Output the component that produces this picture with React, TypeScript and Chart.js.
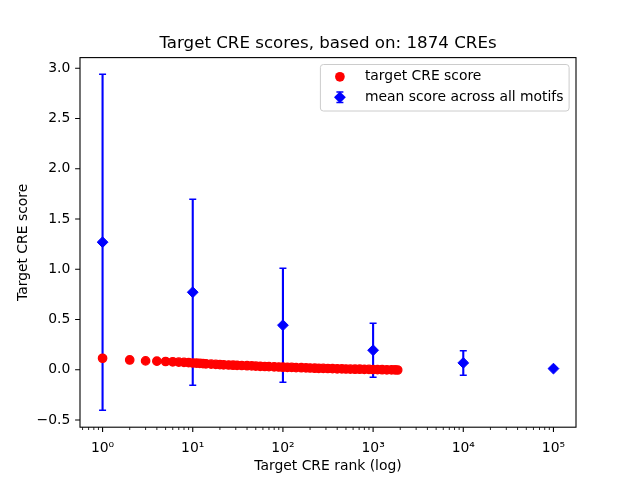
import React, { useEffect, useRef } from 'react';
import { Chart, registerables } from 'chart.js';

Chart.register(...registerables);

const TITLE = 'Target CRE scores, based on: 1874 CREs';
const X_LABEL = 'Target CRE rank (log)';
const Y_LABEL = 'Target CRE score';
const LEGEND_LABELS = ['target CRE score', 'mean score across all motifs'];

const targetRanks = [
  1, 2, 3, 4, 5, 6, 7, 8, 9, 10, 11, 12, 13, 14, 16, 18, 20, 22, 25, 28, 31, 35, 40, 45, 50,
  56, 63, 70, 80, 90, 100, 112, 125, 140, 160, 180, 200, 225, 250, 280, 315, 355, 400, 450,
  500, 560, 630, 710, 800, 900, 1000, 1120, 1260, 1420, 1600, 1750, 1874,
];
const targetScores = [
  0.114, 0.097, 0.088, 0.085, 0.082, 0.079, 0.076, 0.073, 0.07, 0.067, 0.065, 0.063, 0.061,
  0.059, 0.056, 0.053, 0.051, 0.049, 0.047, 0.045, 0.044, 0.042, 0.04, 0.038, 0.036,
  0.034, 0.032, 0.031, 0.029, 0.027, 0.025, 0.024, 0.023, 0.021, 0.02, 0.018, 0.017, 0.015,
  0.014, 0.013, 0.012, 0.011, 0.009, 0.008, 0.007, 0.006, 0.005, 0.005, 0.004, 0.003,
  0.002, 0.001, 0.0, -0.001, -0.001, -0.002, -0.003,
];

const meanRanks = [1, 10, 100, 1000, 10000, 100000];
const meanScores = [1.269, 0.771, 0.443, 0.194, 0.068, 0.011];
const meanErrors = [1.672, 0.925, 0.567, 0.269, 0.122, 0];

const xMajorTicks = [1, 10, 100, 1000, 10000, 100000];
const xTickLabels = ['10\u2070', '10\u00b9', '10\u00b2', '10\u00b3', '10\u2074', '10\u2075'];
const yTicks = [-0.5, 0, 0.5, 1, 1.5, 2, 2.5, 3];
const yTickLabels = ['\u22120.5', '0.0', '0.5', '1.0', '1.5', '2.0', '2.5', '3.0'];

const X_MIN = 0.562;
const X_MAX = 177828;
const Y_MIN = -0.572;
const Y_MAX = 3.106;

const RED = '#ff0000';
const BLUE = '#0000ff';
const FONT = '"DejaVu Sans", sans-serif';
const FS = 13.9;

function minorTicks(): number[] {
  const out: number[] = [];
  for (let p = -1; p <= 5; p++) {
    for (let m = 2; m <= 9; m++) {
      const v = m * Math.pow(10, p);
      if (v > X_MIN && v < X_MAX) out.push(v);
    }
  }
  return out;
}

function drawDiamond(ctx: CanvasRenderingContext2D, x: number, y: number, r: number) {
  ctx.beginPath();
  ctx.moveTo(x - r, y);
  ctx.lineTo(x, y - r);
  ctx.lineTo(x + r, y);
  ctx.lineTo(x, y + r);
  ctx.closePath();
  ctx.fill();
}

const decorPlugin = {
  id: 'decor',
  beforeDatasetsDraw(chart: any) {
    const { ctx, scales } = chart;
    const x = scales.x;
    const y = scales.y;
    ctx.save();
    ctx.strokeStyle = BLUE;
    meanRanks.forEach((r, i) => {
      const e = meanErrors[i];
      if (!e) return;
      const px = x.getPixelForValue(r);
      const top = y.getPixelForValue(meanScores[i] + e);
      const bot = y.getPixelForValue(meanScores[i] - e);
      ctx.lineWidth = 2.1;
      ctx.beginPath();
      ctx.moveTo(px, top);
      ctx.lineTo(px, bot);
      ctx.stroke();
      ctx.lineWidth = 1.5;
      ctx.beginPath();
      ctx.moveTo(px - 3.5, top);
      ctx.lineTo(px + 3.5, top);
      ctx.moveTo(px - 3.5, bot);
      ctx.lineTo(px + 3.5, bot);
      ctx.stroke();
    });
    ctx.restore();
  },
  afterDraw(chart: any) {
    const { ctx, chartArea, scales } = chart;
    const x = scales.x;
    const y = scales.y;
    const { left, right, top, bottom } = chartArea;
    ctx.save();
    // frame
    ctx.strokeStyle = '#000';
    ctx.lineWidth = 1.1;
    ctx.strokeRect(left, top, right - left, bottom - top);
    // y ticks
    ctx.beginPath();
    yTicks.forEach((v) => {
      const py = y.getPixelForValue(v);
      ctx.moveTo(left, py);
      ctx.lineTo(left - 4.9, py);
    });
    xMajorTicks.forEach((v) => {
      const px = x.getPixelForValue(v);
      ctx.moveTo(px, bottom);
      ctx.lineTo(px, bottom + 4.9);
    });
    ctx.stroke();
    ctx.lineWidth = 0.85;
    ctx.beginPath();
    minorTicks().forEach((v) => {
      const px = x.getPixelForValue(v);
      ctx.moveTo(px, bottom);
      ctx.lineTo(px, bottom + 2.8);
    });
    ctx.stroke();

    // legend
    ctx.font = `${FS}px ${FONT}`;
    const tw = Math.max(...LEGEND_LABELS.map((t) => ctx.measureText(t).width));
    const pad = 5.6;
    const handle = 27.8;
    const textPad = 11.1;
    const w = pad * 2 + handle + textPad + tw;
    const h = 46.5;
    const lx = right - 6.9 - w;
    const ly = top + 6.9;
    const rr = 3;
    ctx.beginPath();
    ctx.moveTo(lx + rr, ly);
    ctx.lineTo(lx + w - rr, ly);
    ctx.arcTo(lx + w, ly, lx + w, ly + rr, rr);
    ctx.lineTo(lx + w, ly + h - rr);
    ctx.arcTo(lx + w, ly + h, lx + w - rr, ly + h, rr);
    ctx.lineTo(lx + rr, ly + h);
    ctx.arcTo(lx, ly + h, lx, ly + h - rr, rr);
    ctx.lineTo(lx, ly + rr);
    ctx.arcTo(lx, ly, lx + rr, ly, rr);
    ctx.closePath();
    ctx.fillStyle = 'rgba(255,255,255,0.8)';
    ctx.fill();
    ctx.strokeStyle = '#cccccc';
    ctx.lineWidth = 1;
    ctx.stroke();

    const mx = lx + pad + handle / 2;
    const row1 = ly + 12.3;
    const row2 = ly + 32.8;
    ctx.fillStyle = RED;
    ctx.beginPath();
    ctx.arc(mx, row1, 4.85, 0, Math.PI * 2);
    ctx.fill();

    ctx.strokeStyle = BLUE;
    ctx.lineWidth = 2.1;
    ctx.beginPath();
    ctx.moveTo(mx, row2 - 5.2);
    ctx.lineTo(mx, row2 + 5.2);
    ctx.stroke();
    ctx.lineWidth = 1.5;
    ctx.beginPath();
    ctx.moveTo(mx - 3.5, row2 - 5.2);
    ctx.lineTo(mx + 3.5, row2 - 5.2);
    ctx.moveTo(mx - 3.5, row2 + 5.2);
    ctx.lineTo(mx + 3.5, row2 + 5.2);
    ctx.stroke();
    ctx.fillStyle = BLUE;
    drawDiamond(ctx, mx, row2, 5.9);

    ctx.fillStyle = '#000';
    ctx.textAlign = 'left';
    ctx.textBaseline = 'middle';
    const tx = lx + pad + handle + textPad;
    ctx.fillText(LEGEND_LABELS[0], tx, row1);
    ctx.fillText(LEGEND_LABELS[1], tx, row2);
    ctx.restore();
  },
};

export default function App() {
  const ref = useRef<HTMLCanvasElement | null>(null);

  useEffect(() => {
    document.body.style.margin = '0';
    document.body.style.overflow = 'hidden';
    const canvas = ref.current;
    if (!canvas) return;
    const chart = new Chart(canvas, {
      type: 'scatter',
      data: {
        datasets: [
          {
            label: LEGEND_LABELS[0],
            data: targetRanks.map((r, i) => ({ x: r, y: targetScores[i] })),
            backgroundColor: RED,
            borderColor: RED,
            pointRadius: 4.2,
            borderWidth: 1.3,
            pointStyle: 'circle',
            showLine: false,
          },
          {
            label: LEGEND_LABELS[1],
            data: meanRanks.map((r, i) => ({ x: r, y: meanScores[i] })),
            backgroundColor: BLUE,
            borderColor: BLUE,
            pointRadius: 5.4,
            borderWidth: 1,
            pointStyle: 'rectRot',
            showLine: false,
          },
        ],
      },
      options: {
        animation: false,
        responsive: false,
        events: [],
        layout: { padding: { left: 0, right: 64, top: 0, bottom: 0 } },
        plugins: {
          legend: { display: false },
          tooltip: { enabled: false },
          title: {
            display: true,
            fullSize: false,
            text: TITLE,
            color: '#000',
            font: { family: FONT, size: 16.67, weight: 'normal', lineHeight: 1.2 },
            padding: { top: 33.5, bottom: 4.1 },
          },
        },
        scales: {
          x: {
            type: 'logarithmic',
            position: 'bottom',
            min: X_MIN,
            max: X_MAX,
            afterBuildTicks: (s: any) => {
              s.ticks = xMajorTicks.map((v) => ({ value: v, major: true }));
            },
            afterFit: (s: any) => {
              s.height = 52.8;
            },
            ticks: {
              autoSkip: false,
              maxRotation: 0,
              minRotation: 0,
              padding: 12.4,
              color: '#000',
              font: { family: FONT, size: FS },
              callback: (v: any) => {
                const i = xMajorTicks.indexOf(Number(v));
                return i >= 0 ? xTickLabels[i] : '';
              },
            },
            grid: { display: false, drawTicks: false },
            border: { display: false },
            title: {
              display: true,
              text: X_LABEL,
              color: '#000',
              font: { family: FONT, size: FS },
              padding: { top: 0, bottom: 5.2 },
            },
          },
          y: {
            type: 'linear',
            min: Y_MIN,
            max: Y_MAX,
            afterBuildTicks: (s: any) => {
              s.ticks = yTicks.map((v) => ({ value: v }));
            },
            afterFit: (s: any) => {
              s.width = 80;
            },
            ticks: {
              padding: 9.7,
              color: '#000',
              font: { family: FONT, size: FS },
              callback: (v: any) => {
                const i = yTicks.indexOf(Number(v));
                return i >= 0 ? yTickLabels[i] : '';
              },
            },
            grid: { display: false, drawTicks: false },
            border: { display: false },
            title: {
              display: true,
              text: Y_LABEL,
              color: '#000',
              font: { family: FONT, size: FS },
              padding: { top: 15.2, bottom: 0 },
            },
          },
        },
      },
      plugins: [decorPlugin],
    } as any);
    return () => chart.destroy();
  }, []);

  return (
    <div style={{ width: 640, height: 480 }}>
      <canvas ref={ref} width={640} height={480} style={{ display: 'block' }} />
    </div>
  );
}
